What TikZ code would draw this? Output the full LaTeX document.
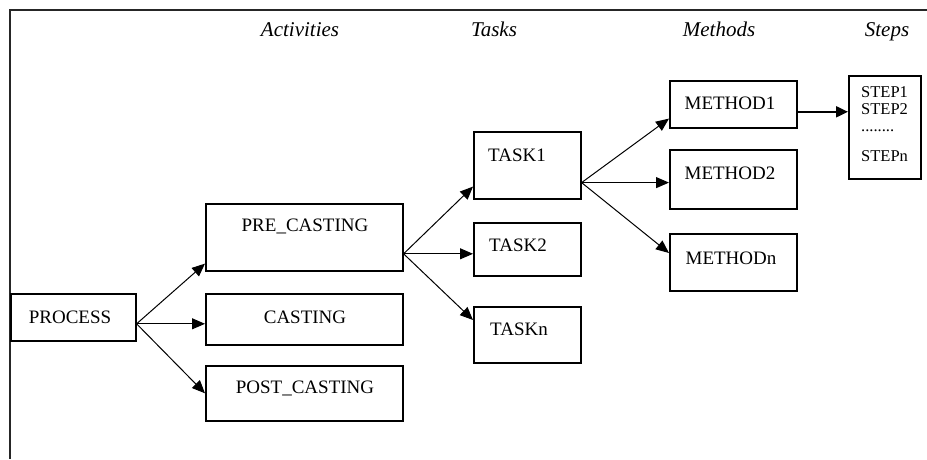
\documentclass[tikz,border=0pt]{standalone}
\usepackage{fontspec}
\setmainfont{Liberation Serif}
\usetikzlibrary{arrows.meta,calc}
\tikzset{
  box/.style={draw=black, line width=1.6pt, rectangle, inner sep=0pt, anchor=north west},
  lbl/.style={inner sep=0pt, font=\fontsize{19}{21}\selectfont},
  hdr/.style={inner sep=0pt, anchor=base, font=\fontsize{21}{24}\selectfont\itshape},
  stp/.style={inner sep=0pt, anchor=west, font=\fontsize{16.5}{18}\selectfont},
  arr/.style={draw=black, line width=1pt, -{Triangle[length=13pt,width=11pt]}},
  arrb/.style={draw=black, line width=2pt, -{Triangle[length=12pt,width=11pt]}}
}
\begin{document}
\begin{tikzpicture}[x=1pt,y=-1pt]
\useasboundingbox (0,0) rectangle (927,459);
% outer frame
\draw[line width=1.8pt, black!85] (927,10) -- (10,10) -- (10,459);
% headers
\node[hdr] (hact) at (300,36) {Activities};
\node[hdr] (htask) at (494,36) {Tasks};
\node[hdr] (hmeth) at (719,36) {Methods};
\node[hdr] (hstep) at (887,36) {Steps};
% boxes
\node[box, minimum width=125pt, minimum height=47pt] (process) at (10,293) {};
\node[box, minimum width=197pt, minimum height=67pt] (precasting) at (205,203) {};
\node[box, minimum width=197pt, minimum height=51pt] (casting) at (205,293) {};
\node[box, minimum width=197pt, minimum height=55pt] (postcasting) at (205,365) {};
\node[box, minimum width=107pt, minimum height=67pt] (task1) at (473,131) {};
\node[box, minimum width=107pt, minimum height=53pt] (task2) at (473,222) {};
\node[box, minimum width=107pt, minimum height=56pt] (taskn) at (473,306) {};
\node[box, minimum width=127pt, minimum height=47pt] (method1) at (669,80) {};
\node[box, minimum width=127pt, minimum height=59pt] (method2) at (669,149) {};
\node[box, minimum width=127pt, minimum height=57pt] (methodn) at (669,233) {};
\node[box, minimum width=72pt, minimum height=103pt] (steps) at (848,75) {};
% labels
\node[lbl] (tprocess) at (70,317) {PROCESS};
\node[lbl] (tprecasting) at (305,226) {PRE\_CASTING};
\node[lbl] (tcasting) at (305,317) {CASTING};
\node[lbl] (tpostcasting) at (305,388) {POST\_CASTING};
\node[lbl] (ttask1) at (517,155) {TASK1};
\node[lbl] (ttask2) at (518,245) {TASK2};
\node[lbl] (ttaskn) at (519,329) {TASKn};
\node[lbl] (tmethod1) at (730,103) {METHOD1};
\node[lbl] (tmethod2) at (730,173) {METHOD2};
\node[lbl] (tmethodn) at (731,258) {METHODn};
\node[stp] (s1) at (861,92) {STEP1};
\node[stp] (s2) at (861,109) {STEP2};
\node[stp] (sd) at (861,131) {........};
\node[stp] (sn) at (861,156) {STEPn};
% fork points
\coordinate (pfork) at ([yshift=-6.5pt]process.east);
\coordinate (afork) at ([yshift=-16.5pt]precasting.east);
\coordinate (tfork) at ([yshift=17pt]task1.south east);
\coordinate (mfork) at ([yshift=-7.5pt]method1.east);
% connectors
\draw[arr] (pfork) -- ([yshift=8pt]precasting.south west);
\draw[arr] (pfork) -- (pfork -| casting.west);
\draw[arr] (pfork) -- (postcasting.west);
\draw[arr] (afork) -- ([yshift=13pt]task1.south west);
\draw[arr] (afork) -- (afork -| task2.west);
\draw[arr] (afork) -- ([yshift=-14pt]taskn.north west);
\draw[arr] (tfork) -- ([yshift=10pt]method1.south west);
\draw[arr] (tfork) -- (tfork -| method2.west);
\draw[arr] (tfork) -- ([yshift=-20pt]methodn.north west);
\draw[arrb] (mfork) -- (mfork -| steps.west);
\end{tikzpicture}
\end{document}
